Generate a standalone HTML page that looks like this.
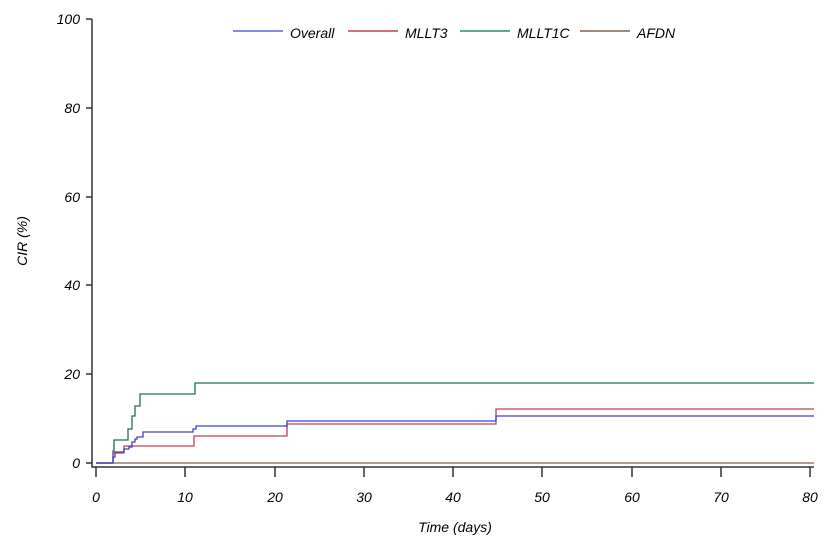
<!DOCTYPE html><html><head><style>body{margin:0;background:#fff}svg{display:block}text{font-family:"Liberation Sans",sans-serif;font-style:italic;font-size:14px;fill:#000}</style></head><body>
<svg width="831" height="554" xmlns="http://www.w3.org/2000/svg">
<g stroke="#333" stroke-width="1.5" fill="none">
<path d="M92,19V467H814"/>
<path d="M86,19H92M86,108H92M86,197H92M86,285H92M86,374H92M86,463H92"/>
<path d="M96,467V477M185,467V477M275,467V477M364,467V477M453,467V477M542,467V477M632,467V477M721,467V477M810,467V477"/>
</g>
<g text-anchor="end"><text x="80" y="24">100</text><text x="80" y="113">80</text><text x="80" y="202">60</text><text x="80" y="290">40</text><text x="80" y="379">20</text><text x="80" y="468">0</text></g>
<g text-anchor="middle"><text x="96" y="502">0</text><text x="185" y="502">10</text><text x="275" y="502">20</text><text x="364" y="502">30</text><text x="453" y="502">40</text><text x="542" y="502">50</text><text x="632" y="502">60</text><text x="721" y="502">70</text><text x="810" y="502">80</text>
<text x="455" y="532">Time (days)</text>
<text transform="translate(27,241) rotate(-90)">CIR (%)</text></g>
<g fill="none" stroke-width="1.3">
<path stroke="#7a6050" d="M96,463H814"/>
<path stroke="#1e6e5a" d="M96,463H113V451H114V440H128V429H132V416H135V406H140V394H195V383H814"/>
<path stroke="#c04050" d="M96,463H113V453H124V446H194V436H287V424H496V409H814"/>
<path stroke="#4040d0" d="M96,463H113V457H115V452H124V449H129V447H132V442H135V439H137V437H143V432H193V429H196V426H287V421H496V416H814"/>
</g>
<g stroke-width="1.5"><path stroke="#6060e0" d="M233,31H283"/><path stroke="#c04050" d="M348,31H398"/><path stroke="#2a8a70" d="M460,31H510"/><path stroke="#806050" d="M580,31H630"/></g>
<text x="290" y="38">Overall</text><text x="405" y="38">MLLT3</text><text x="517" y="38">MLLT1C</text><text x="637" y="38">AFDN</text>
</svg></body></html>
